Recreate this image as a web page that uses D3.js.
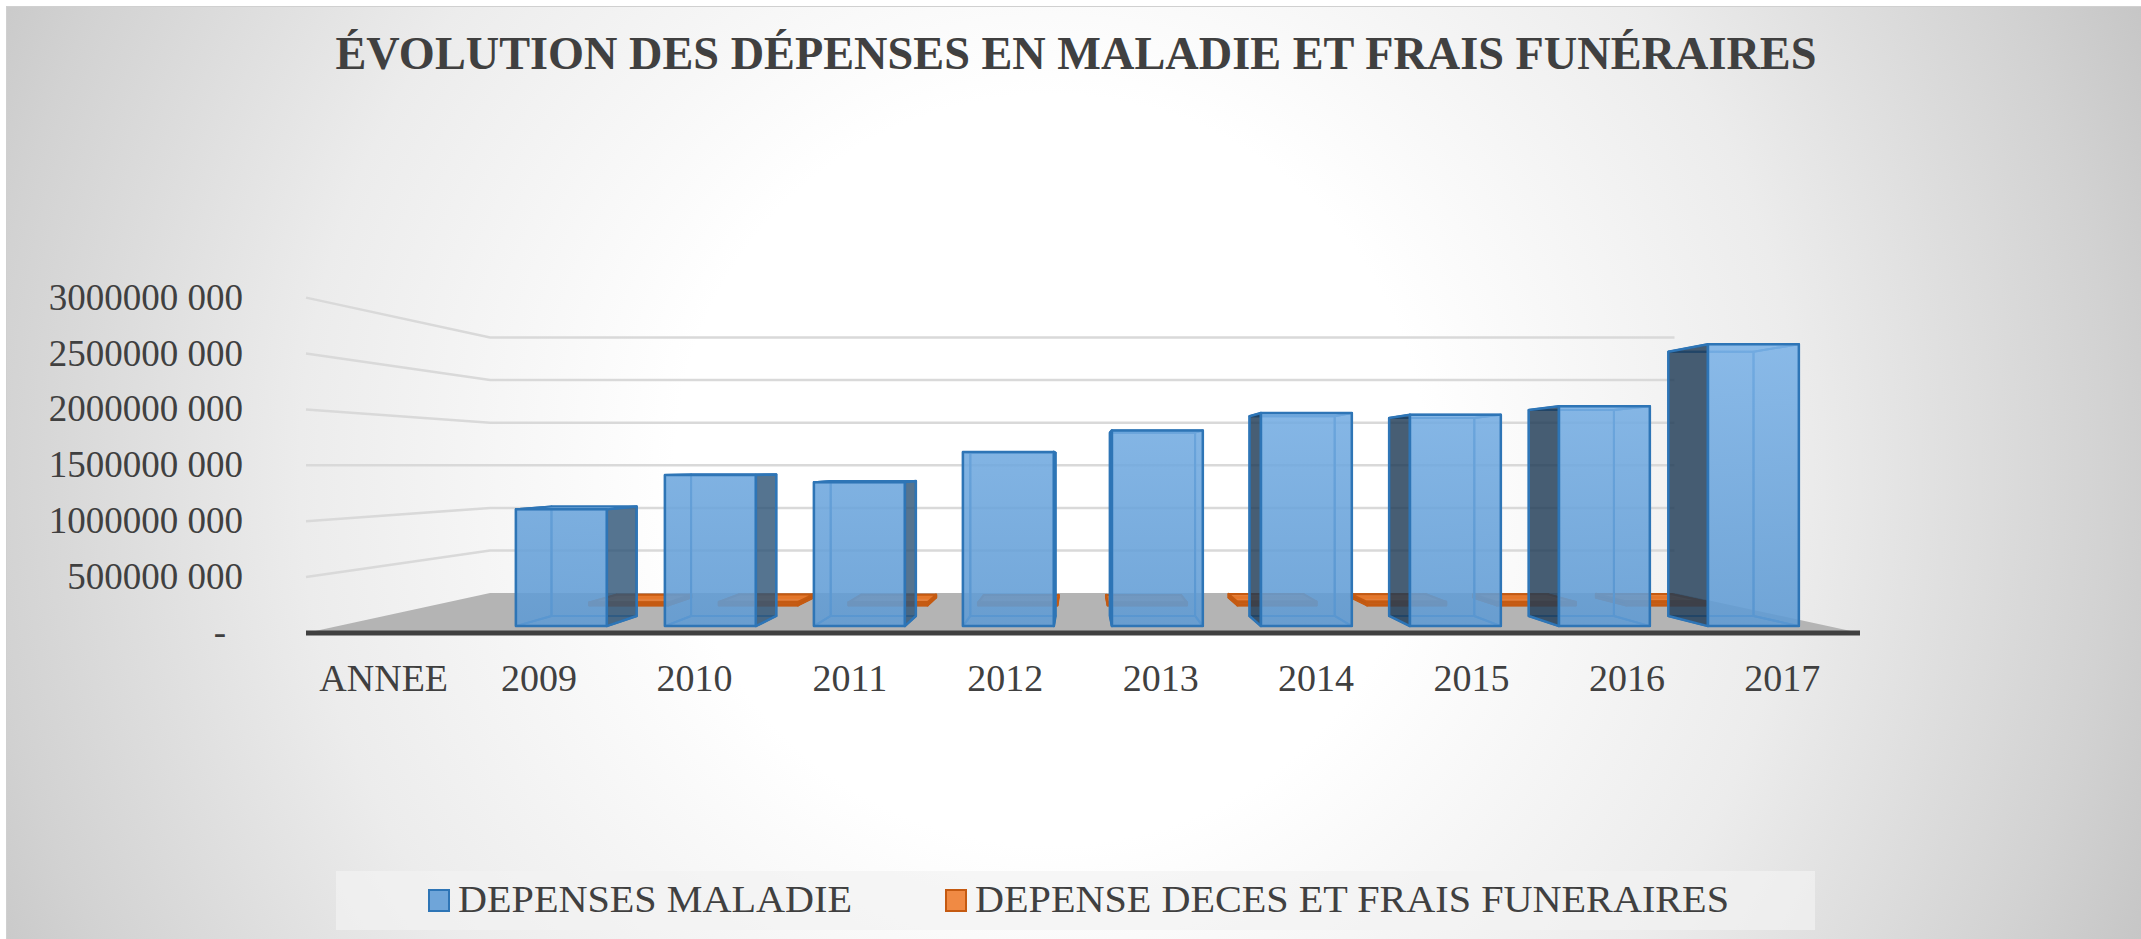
<!DOCTYPE html>
<meta charset="utf-8">
<style>
body { margin: 0; }
text { font-family: "Liberation Serif", "Times New Roman", serif; fill: #404040; }
</style>
<svg width="2141" height="939"></svg>
<script src="https://d3js.org/d3.v7.min.js"></script>
<script>

var title = "ÉVOLUTION DES DÉPENSES EN MALADIE ET FRAIS FUNÉRAIRES";
var categories = ["ANNEE", "2009", "2010", "2011", "2012", "2013", "2014", "2015", "2016", "2017"];
var seriesNames = ["DEPENSES MALADIE", "DEPENSE DECES ET FRAIS FUNERAIRES"];
var maladie = [null, 1089e6, 1409e6, 1343e6, 1625e6, 1825e6, 1988e6, 1972e6, 2050e6, 2630e6];
var deces = [null, 30e6, 34e6, 31e6, 28e6, 29e6, 38e6, 36e6, 35e6, 40e6];
var yTicks = [0, 5e8, 1e9, 1.5e9, 2e9, 2.5e9, 3e9];

var svg = d3.select("svg"),
    width = +svg.attr("width"),
    height = +svg.attr("height");

var defs = svg.append("defs");

var bg = defs.append("radialGradient").attr("id", "bg")
    .attr("gradientUnits", "userSpaceOnUse")
    .attr("cx", 1050).attr("cy", 470).attr("r", 1250);
bg.append("stop").attr("offset", 0).attr("stop-color", "#ffffff");
bg.append("stop").attr("offset", 0.3).attr("stop-color", "#ffffff");
bg.append("stop").attr("offset", 0.6).attr("stop-color", "#ececec");
bg.append("stop").attr("offset", 0.85).attr("stop-color", "#d2d2d2");
bg.append("stop").attr("offset", 1).attr("stop-color", "#c0c0c0");

var barGrad = defs.append("linearGradient").attr("id", "barGrad")
    .attr("gradientUnits", "userSpaceOnUse")
    .attr("x1", 0).attr("y1", 300).attr("x2", 0).attr("y2", 630);
barGrad.append("stop").attr("offset", 0).attr("stop-color", "#80b6ea");
barGrad.append("stop").attr("offset", 1).attr("stop-color", "#5e9ad3");

svg.append("rect").attr("width", width).attr("height", height).attr("fill", "#fff");
svg.append("rect")
    .attr("x", 6.5).attr("y", 6.5).attr("width", width).attr("height", height)
    .attr("fill", "url(#bg)").attr("stroke", "#d0d0d0");

// scales ---------------------------------------------------------------
var x = d3.scaleBand().domain(categories).range([306, 1860])
    .paddingInner(0.39).paddingOuter(0.195);
var y = d3.scaleLinear().domain([0, 3e9]).range([633, 297.6]);
var depth = d3.scaleBand().domain(seriesNames).range([0, 0.312])
    .paddingInner(0.55).paddingOuter(0.275);
var zBack = depth.range()[1];

// simple perspective: vanishing point at the 1 500 000 000 level
var vp = [1080, y(1.5e9)];
function proj(px, py, z) {
  var s = 1 / (1 + z);
  return [vp[0] + (px - vp[0]) * s, vp[1] + (py - vp[1]) * s];
}

// title
svg.append("text")
    .attr("x", 1076).attr("y", 69)
    .attr("text-anchor", "middle")
    .attr("textLength", 1481).attr("lengthAdjust", "spacingAndGlyphs")
    .style("font-size", "47px").style("font-weight", "bold")
    .text(title);

// walls gridlines
var x0 = x.range()[0], x1 = x.range()[1];
var grid = svg.append("g");
yTicks.filter(function(v) { return v > 0; }).forEach(function(v) {
  var a = proj(x0, y(v), 0), b = proj(x0, y(v), zBack), c = proj(x1, y(v), zBack);
  grid.append("polyline")
      .attr("points", [a, b, c].join(" "))
      .attr("fill", "none").attr("stroke", "#d9d9d9").attr("stroke-width", 2.5);
});

// floor
svg.append("polygon")
    .attr("points", [proj(x0, y(0), 0), proj(x1, y(0), 0), proj(x1, y(0), zBack), proj(x0, y(0), zBack)].join(" "))
    .attr("fill", "#b4b4b4");

// y labels
svg.append("g").selectAll("text")
  .data(yTicks)
  .enter().append("text")
    .attr("x", function(d) { return d === 0 ? 226 : 243; })
    .attr("y", function(d) { return y(d) + 12; })
    .attr("text-anchor", "end")
    .style("font-size", "37px")
    .text(function(d) {
      if (d === 0) return "-";
      var s = String(d);
      return s.slice(0, -3) + " " + s.slice(-3);
    });

// boxes -----------------------------------------------------------------
var styles = {
  "DEPENSES MALADIE": {
    front: "url(#barGrad)", frontOp: 0.88, stroke: "#2e75b6",
    sideR: "#2f5678", sideL: "#1f3a56", sideOp: 0.82, top: "#8cbbe8", hidden: "#2e75b6"
  },
  "DEPENSE DECES ET FRAIS FUNERAIRES": {
    front: "#c55a11", frontOp: 0.95, stroke: "#c55a11",
    sideR: "#a94c0e", sideL: "#a94c0e", sideOp: 0.9, top: "#e8792c", hidden: "#c55a11"
  }
};

function poly(g, pts, fill, op, stroke, sw) {
  g.append("polygon")
      .attr("points", pts.join(" "))
      .attr("fill", fill).attr("fill-opacity", op)
      .attr("stroke", stroke).attr("stroke-width", sw)
      .attr("stroke-linejoin", "round");
}

function drawBox(g, cat, value, series) {
  var st = styles[series];
  var X0 = x(cat), X1 = X0 + x.bandwidth();
  var z0 = depth(series), z1 = z0 + depth.bandwidth();
  var Y0 = y(0), Y1 = y(value);
  var fbl = proj(X0, Y0, z0), fbr = proj(X1, Y0, z0), ftl = proj(X0, Y1, z0), ftr = proj(X1, Y1, z0);
  var bbl = proj(X0, Y0, z1), bbr = proj(X1, Y0, z1), btl = proj(X0, Y1, z1), btr = proj(X1, Y1, z1);

  var leftVis = X0 > vp[0], rightVis = X1 < vp[0], topVis = Y1 > vp[1];

  // hidden edges seen through the transparent faces
  var hid = [[bbl, bbr, btr, btl], [fbl, fbr, bbr, bbl]];
  if (!leftVis) hid.push([fbl, bbl, btl, ftl]);
  if (!rightVis) hid.push([fbr, bbr, btr, ftr]);
  if (!topVis) hid.push([ftl, ftr, btr, btl]);
  hid.forEach(function(p) { poly(g, p, "none", 0, st.hidden, 2); });

  if (rightVis) poly(g, [fbr, bbr, btr, ftr], st.sideR, st.sideOp, st.stroke, 2.5);
  if (leftVis) poly(g, [fbl, bbl, btl, ftl], st.sideL, st.sideOp, st.stroke, 2.5);
  if (topVis) poly(g, [ftl, ftr, btr, btl], st.top, 0.9, st.stroke, 2);
  poly(g, [fbl, fbr, ftr, ftl], st.front, st.frontOp, st.stroke, 2.5);
}

var bars = svg.append("g");
var byDist = categories.map(function(c, i) { return i; })
  .sort(function(a, b) {
    return Math.abs(x(categories[b]) + x.bandwidth() / 2 - vp[0]) - Math.abs(x(categories[a]) + x.bandwidth() / 2 - vp[0]);
  });

[[seriesNames[1], deces], [seriesNames[0], maladie]].forEach(function(s) {
  byDist.forEach(function(i) {
    if (s[1][i] == null) return;
    drawBox(bars, categories[i], s[1][i], s[0]);
  });
});

// floor front edge (category axis line)
svg.append("line")
    .attr("x1", x0).attr("x2", x1).attr("y1", y(0)).attr("y2", y(0))
    .attr("stroke", "#404040").attr("stroke-width", 5);

// x labels
svg.append("g").selectAll("text")
  .data(categories)
  .enter().append("text")
    .attr("x", function(d) { return x(d) + x.bandwidth() / 2; })
    .attr("y", 691)
    .attr("text-anchor", "middle")
    .style("font-size", "38px")
    .text(function(d) { return d; });

// legend
var legend = svg.append("g");
legend.append("rect")
    .attr("x", 336).attr("y", 871).attr("width", 1479).attr("height", 59)
    .attr("fill", "#f2f2f2").attr("fill-opacity", 0.7);

var legendItems = [
  {name: seriesNames[0], x: 429, len: 394, fill: "#6fa5d9", stroke: "#2e75b6"},
  {name: seriesNames[1], x: 946, len: 754, fill: "#f08a44", stroke: "#c55a11"}
];
legendItems.forEach(function(d) {
  legend.append("rect")
      .attr("x", d.x).attr("y", 890).attr("width", 20).attr("height", 21)
      .attr("fill", d.fill).attr("stroke", d.stroke).attr("stroke-width", 2);
  legend.append("text")
      .attr("x", d.x + 29).attr("y", 912)
      .attr("textLength", d.len).attr("lengthAdjust", "spacingAndGlyphs")
      .style("font-size", "37px")
      .text(d.name);
});

</script>
